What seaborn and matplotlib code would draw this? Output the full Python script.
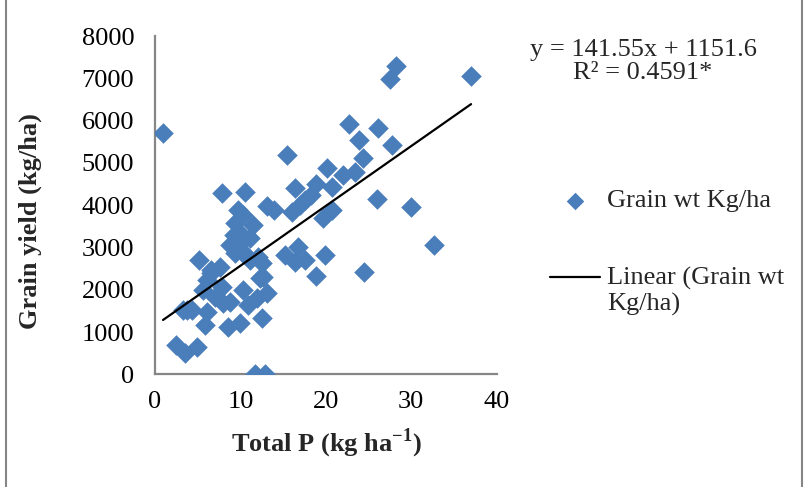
import matplotlib
matplotlib.use("Agg")
import matplotlib.pyplot as plt
import seaborn as sns
import pandas as pd
from matplotlib.lines import Line2D
from matplotlib.legend_handler import HandlerLine2D

# ---------------- data ----------------
total_p = [0.94, 28.2, 27.5, 37.0, 22.7, 26.1, 23.9, 27.8, 24.4, 20.1,
           23.4, 22.0, 15.4, 16.4, 18.9, 20.7, 18.3, 17.6, 17.0, 16.0,
           20.7, 19.7, 26.0, 30.0, 32.7, 15.2, 16.7, 17.6, 16.4, 19.9,
           18.85, 24.5, 7.8, 10.5, 13.1, 13.9, 9.75, 10.3, 9.4, 11.5,
           9.95, 11.1, 8.8, 10.15, 5.1, 7.6, 6.6, 12.5, 12.7, 11.1,
           6.05, 7.8, 5.65, 10.3, 13.1, 7.0, 8.8, 10.9, 11.9, 3.3,
           4.3, 6.05, 5.85, 8.6, 9.95, 12.5, 2.5, 3.5, 4.9, 11.7,
           12.9, 9.2, 10.7, 12.1, 9.4, 8.0, 6.6, 3.7, 10.3, 12.3]
grain_yield = [5700, 7300, 6990, 7050, 5930, 5830, 5540, 5420, 5110, 4870,
               4790, 4710, 5190, 4400, 4510, 4430, 4240, 4120, 4000, 3845,
               3885, 3690, 4150, 3960, 3060, 2820, 3020, 2700, 2660, 2820,
               2330, 2430, 4280, 4300, 3970, 3890, 3890, 3765, 3570, 3530,
               3340, 3220, 3060, 2900, 2700, 2545, 2465, 2625, 2310, 2700,
               2230, 2070, 1990, 1990, 1915, 1835, 1715, 1640, 1800, 1520,
               1520, 1480, 1165, 1125, 1205, 1325, 690, 495, 650, 0,
               0, 3290, 2820, 2780, 2870, 1690, 2390, 1520, 3175, 2270]

trend_slope = 141.55
trend_intercept = 1151.6
equation_text = "y = 141.55x + 1151.6\nR² = 0.4591*"
x_ticks = [0, 10, 20, 30, 40]
y_ticks = [0, 1000, 2000, 3000, 4000, 5000, 6000, 7000, 8000]
series_label = "Grain wt Kg/ha"
trend_label = "Linear (Grain wt\nKg/ha)"

# ---------------- styling ----------------
sns.set_theme(style="white")
plt.rcParams['font.family'] = ['Liberation Serif', 'DejaVu Serif']
plt.rcParams['mathtext.fontset'] = 'custom'
plt.rcParams['mathtext.rm'] = 'Liberation Serif'
plt.rcParams['mathtext.bf'] = 'Liberation Serif:bold'

W, H = 807, 487
fig = plt.figure(figsize=(W / 100, H / 100), dpi=100)
fig.patch.set_facecolor('white')

x0, x1 = 155, 496.7
y0, y1 = 374.3, 36.0
ax = fig.add_axes([x0 / W, 1 - y0 / H, (x1 - x0) / W, (y0 - y1) / H])

blue = '#4A7EBB'
gray = '#868686'

df = pd.DataFrame({'Total P': total_p, 'Grain yield': grain_yield})
sns.scatterplot(data=df, x='Total P', y='Grain yield', marker='D', s=110,
                color=blue, linewidth=0, ax=ax, label=series_label, zorder=3)

xl = [min(total_p), max(total_p)]
line_df = pd.DataFrame({'x': xl, 'y': [trend_slope * v + trend_intercept for v in xl]})
sns.lineplot(data=line_df, x='x', y='y', color='black', linewidth=1.6, ax=ax,
             label=trend_label, zorder=4)

ax.set_xlim(x_ticks[0], x_ticks[-1])
ax.set_ylim(y_ticks[0], y_ticks[-1])
ax.set_xticks(x_ticks)
ax.set_yticks(y_ticks)
ax.grid(False)
for side in ['top', 'right']:
    ax.spines[side].set_visible(False)
for side in ['left', 'bottom']:
    ax.spines[side].set_color(gray)
    ax.spines[side].set_linewidth(1.6)
ax.tick_params(axis='both', direction='out', length=5, width=1.5, color=gray,
               labelsize=19, labelcolor='black')
ax.tick_params(axis='y', pad=10)
ax.tick_params(axis='x', pad=7)
ax.margins(0)

ax.set_xlabel(r'Total P (kg ha$^{\mathbf{-1}}$)', fontsize=19, fontweight='bold')
ax.set_ylabel('Grain yield (kg/ha)', fontsize=19, fontweight='bold')
ax.xaxis.set_label_coords((326 - x0) / (x1 - x0), (y0 - 427) / (y0 - y1))
ax.yaxis.set_label_coords((42 - x0) / (x1 - x0), (y0 - 221) / (y0 - y1))

fig.text(643 / W, 1 - 61.5 / H, equation_text, ha='center', va='center',
         multialignment='center', fontsize=19, linespacing=1.05)


class TopLineHandler(HandlerLine2D):
    """Place the line handle beside the first line of a two-line label."""
    def create_artists(self, legend, orig_handle, xdescent, ydescent, width,
                       height, fontsize, trans):
        artists = super().create_artists(legend, orig_handle, xdescent, ydescent,
                                         width, height, fontsize, trans)
        for a in artists:
            if isinstance(a, Line2D):
                a.set_ydata([y + 0.53 * fontsize for y in a.get_ydata()])
        return artists


handles, labels = ax.get_legend_handles_labels()
leg = ax.legend(handles, labels, loc='upper left',
                bbox_to_anchor=(550 / W, 1 - 189 / H),
                bbox_transform=fig.transFigure, frameon=False, fontsize=19,
                borderpad=0, borderaxespad=0, handlelength=1.9,
                handletextpad=0.25, labelspacing=2.05, markerscale=0.85,
                handler_map={handles[1]: TopLineHandler()})

# outer chart frame (left and right edges)
fig.add_artist(Line2D([6.5 / W, 6.5 / W], [0, 1], transform=fig.transFigure,
                      color=gray, linewidth=1.5))
fig.add_artist(Line2D([802 / W, 802 / W], [0, 1], transform=fig.transFigure,
                      color=gray, linewidth=1.5))

fig.savefig('out.png', dpi=100, facecolor='white')
